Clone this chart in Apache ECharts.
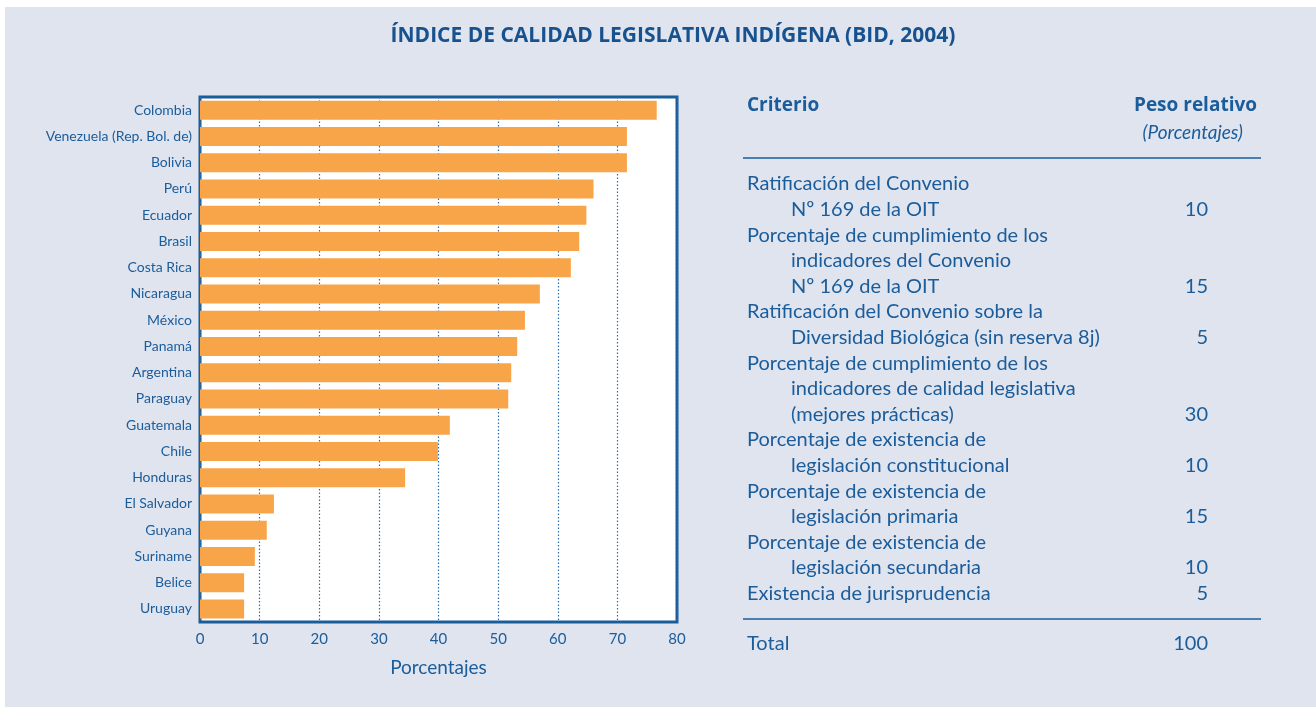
<!DOCTYPE html>
<html>
<head>
<meta charset="utf-8">
<script src="https://cdn.jsdelivr.net/npm/echarts@6/dist/echarts.min.js"></script>
<style>
  html, body { margin: 0; padding: 0; background: #fff; }
  #panel { position: absolute; left: 5px; top: 7px; right: 0; bottom: 0; background: #dfe4ef; }
  #chart { position: absolute; left: 0; top: 0; width: 1316px; height: 707px; }
</style>
</head>
<body>
<div id="panel"></div>
<div id="chart"></div>
<script>
// paises y valores del indice (porcentajes)
var paises = ['Colombia', 'Venezuela (Rep. Bol. de)', 'Bolivia', 'Perú', 'Ecuador', 'Brasil',
  'Costa Rica', 'Nicaragua', 'México', 'Panamá', 'Argentina', 'Paraguay', 'Guatemala',
  'Chile', 'Honduras', 'El Salvador', 'Guyana', 'Suriname', 'Belice', 'Uruguay']
var valores = [76.6, 71.6, 71.6, 66.0, 64.8, 63.6, 62.2, 57.0, 54.5, 53.2, 52.2, 51.7,
  41.9, 39.9, 34.4, 12.4, 11.2, 9.2, 7.4, 7.4]
var ticksX = [0, 10, 20, 30, 40, 50, 60, 70, 80]

// tabla de criterios
var criterios = [
  ['Ratificación del Convenio', 'Nº 169 de la OIT'],
  ['Porcentaje de cumplimiento de los', 'indicadores del Convenio', 'Nº 169 de la OIT'],
  ['Ratificación del Convenio sobre la', 'Diversidad Biológica (sin reserva 8j)'],
  ['Porcentaje de cumplimiento de los', 'indicadores de calidad legislativa', '(mejores prácticas)'],
  ['Porcentaje de existencia de', 'legislación constitucional'],
  ['Porcentaje de existencia de', 'legislación primaria'],
  ['Porcentaje de existencia de', 'legislación secundaria'],
  ['Existencia de jurisprudencia']
]
var pesos = [10, 15, 5, 30, 10, 15, 10, 5]
var total = 100

var azul = '#1b5c9a'
var fuente = 'Lato, "Open Sans", sans-serif'
var fuenteNegrita = '"Open Sans", Lato, sans-serif'

var chart = echarts.init(document.getElementById('chart'))

// textos de la tabla
var graficos = []
function texto(x, y, t, align, extra) {
  var st = { x: x, y: y, text: t, fill: azul, font: '20px ' + fuente, textAlign: align || 'left', textVerticalAlign: 'middle' }
  if (extra) Object.assign(st, extra)
  graficos.push({ type: 'text', style: st })
}
texto(747, 106, 'Criterio', 'left', { font: 'bold 19px ' + fuenteNegrita })
texto(1257, 106, 'Peso relativo', 'right', { font: 'bold 19px ' + fuenteNegrita })
texto(1243, 133, '(Porcentajes)', 'right', { font: 'italic 19px ' + fuente })
graficos.push({ type: 'line', shape: { x1: 743, y1: 158, x2: 1261, y2: 158 }, style: { stroke: azul, lineWidth: 1.5 } })

var y = 184
criterios.forEach(function (lineas, i) {
  lineas.forEach(function (l, j) {
    texto(j === 0 ? 747 : 791, y, l)
    if (j === lineas.length - 1) texto(1208, y, String(pesos[i]), 'right')
    y += 25.6
  })
})
graficos.push({ type: 'line', shape: { x1: 743, y1: 619, x2: 1261, y2: 619 }, style: { stroke: azul, lineWidth: 1.5 } })
texto(747, 644, 'Total')
texto(1208, 644, String(total), 'right')

var option = {
  animation: false,
  title: {
    text: 'ÍNDICE DE CALIDAD LEGISLATIVA INDÍGENA (BID, 2004)',
    left: 668,
    top: 21,
    textAlign: 'center',
    textStyle: { color: '#17528e', fontSize: 21, fontWeight: 'bold', fontFamily: fuenteNegrita }
  },
  grid: {
    left: 200,
    top: 97,
    width: 477,
    height: 525,
    show: true,
    backgroundColor: '#fff',
    borderColor: azul,
    borderWidth: 3
  },
  xAxis: {
    type: 'value',
    min: ticksX[0],
    max: ticksX[ticksX.length - 1],
    interval: 10,
    name: 'Porcentajes',
    nameLocation: 'middle',
    nameGap: 36,
    nameTextStyle: { color: azul, fontSize: 19, fontFamily: fuente },
    axisLine: { show: false },
    axisTick: { show: false },
    axisLabel: { color: azul, fontSize: 15, margin: 10, fontFamily: fuente },
    splitLine: { show: true, lineStyle: { color: '#2f6fae', type: [1.5, 2], width: 1.2 } }
  },
  yAxis: {
    type: 'category',
    data: paises,
    inverse: true,
    axisLine: { show: false },
    axisTick: { show: false },
    axisLabel: { color: azul, fontSize: 14, margin: 8, fontFamily: fuente },
    splitLine: { show: false }
  },
  series: [{
    type: 'bar',
    data: valores,
    barWidth: 19,
    itemStyle: { color: '#f8a54a' }
  }],
  graphic: graficos
}
chart.setOption(option)
</script>
</body>
</html>
